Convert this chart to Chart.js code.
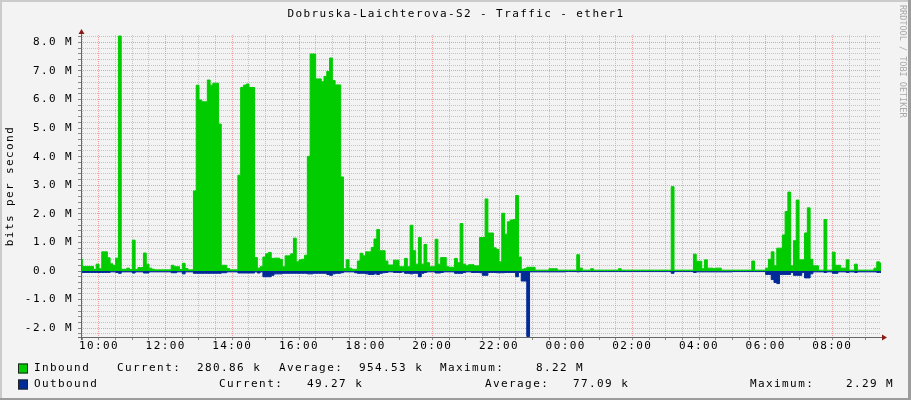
<!DOCTYPE html>
<html>
<head>
<meta charset="utf-8">
<title>Dobruska-Laichterova-S2 - Traffic - ether1</title>
<script src="https://cdn.jsdelivr.net/npm/chart.js@4.4.1/dist/chart.umd.min.js"></script>
<style>
html, body { margin: 0; padding: 0; background: #F3F3F3; }
canvas { display: block; }
</style>
</head>
<body>
<canvas id="trafficChart" width="911" height="400"></canvas>
<script>
// 5 minute samples, first one starts 09:25, values in Mbit/s
const startHour = 9 + 25 / 60;
const stepHours = 5 / 60;

const inbound = [
    0.41, 0.16, 0.16, 0.16, 0.16, 0.06, 0.24,
    0.08, 0.67, 0.67, 0.46, 0.25, 0.2, 0.45, 8.22, 0.06, 0.06, 0.1, 0.05,
    1.08, 0.05, 0.12, 0.12, 0.63, 0.24, 0.1, 0.06, 0.04, 0.04, 0.04, 0.04,
    0.04, 0.04, 0.2, 0.15, 0.15, 0.05, 0.27, 0.09, 0.04, 0.04, 2.8, 6.5,
    5.98, 5.92, 5.92, 6.68, 6.5, 6.57, 6.57, 5.14, 0.2, 0.2, 0.09, 0.04,
    0.04, 0.04, 3.35, 6.42, 6.5, 6.54, 6.42, 6.42, 0.47, 0.1, 0.15, 0.49,
    0.6, 0.65, 0.44, 0.45, 0.45, 0.41, 0.15, 0.53, 0.53, 0.6, 1.15, 0.32,
    0.39, 0.41, 0.55, 4.01, 7.59, 7.59, 6.72, 6.72, 6.62, 6.8, 6.98, 7.45,
    6.66, 6.51, 6.51, 3.29, 0.08, 0.39, 0.1, 0.06, 0.06, 0.35, 0.62, 0.53,
    0.67, 0.67, 0.82, 1.12, 1.45, 0.71, 0.71, 0.35, 0.21, 0.21, 0.38, 0.38,
    0.15, 0.15, 0.44, 0.15, 1.6, 0.71, 0.24, 1.17, 0.24, 0.93, 0.29, 0.15,
    0.15, 1.11, 0.24, 0.47, 0.47, 0.15, 0.13, 0.13, 0.44, 0.29, 1.66, 0.24,
    0.18, 0.22, 0.22, 0.18, 0.18, 1.17, 1.17, 2.52, 1.33, 1.33, 0.81, 0.75,
    0.32, 2.02, 1.29, 1.72, 1.78, 1.8, 2.64, 0.49, 0.06, 0.08, 0.13, 0.13,
    0.13, 0.03, 0.03, 0.03, 0.03, 0.03, 0.08, 0.08, 0.08, 0.03, 0.03, 0.03,
    0.03, 0.03, 0.03, 0.03, 0.57, 0.1, 0.03, 0.03, 0.03, 0.08, 0.03, 0.03,
    0.03, 0.03, 0.03, 0.03, 0.03, 0.03, 0.03, 0.08, 0.03, 0.03, 0.03, 0.03,
    0.03, 0.03, 0.03, 0.03, 0.03, 0.03, 0.03, 0.03, 0.03, 0.03, 0.03, 0.03,
    0.03, 0.03, 2.95, 0.03, 0.03, 0.03, 0.03, 0.03, 0.03, 0.03, 0.59, 0.34,
    0.34, 0.08, 0.39, 0.1, 0.1, 0.08, 0.1, 0.1, 0.03, 0.03, 0.03, 0.03,
    0.03, 0.03, 0.03, 0.03, 0.03, 0.03, 0.03, 0.35, 0.03, 0.03, 0.03, 0.03,
    0.1, 0.41, 0.67, 0.18, 0.8, 0.8, 1.26, 2.08, 2.76, 0.18, 1.06, 2.48,
    0.39, 0.39, 1.33, 2.21, 0.41, 0.18, 0.18, 0.03, 0.03, 1.8, 0.03, 0.03,
    0.66, 0.2, 0.2, 0.1, 0.1, 0.39, 0.03, 0.03, 0.24, 0.03, 0.03, 0.03,
    0.03, 0.03, 0.03, 0.1, 0.32, 0.28, 0.28
];

const outbound = [
    -0.05, -0.05, -0.05, -0.05, -0.05, -0.05, -0.05,
    -0.05, -0.05, -0.05, -0.05, -0.03, -0.03, -0.05, -0.08, -0.03, -0.03, -0.03, -0.03,
    -0.07, -0.03, -0.03, -0.03, -0.07, -0.07, -0.03, -0.03, -0.03, -0.03, -0.03, -0.03,
    -0.03, -0.03, -0.06, -0.06, -0.03, -0.03, -0.1, -0.03, -0.03, -0.03, -0.08, -0.08,
    -0.08, -0.08, -0.08, -0.08, -0.08, -0.08, -0.08, -0.08, -0.06, -0.06, -0.03, -0.03,
    -0.03, -0.03, -0.07, -0.07, -0.07, -0.07, -0.07, -0.07, -0.03, -0.07, -0.03, -0.2,
    -0.2, -0.2, -0.15, -0.1, -0.1, -0.1, -0.08, -0.08, -0.08, -0.08, -0.08, -0.08,
    -0.08, -0.08, -0.08, -0.1, -0.1, -0.08, -0.08, -0.08, -0.08, -0.08, -0.12, -0.15,
    -0.1, -0.08, -0.08, -0.06, -0.03, -0.03, -0.03, -0.03, -0.06, -0.08, -0.08, -0.08,
    -0.1, -0.12, -0.12, -0.1, -0.12, -0.08, -0.06, -0.05, -0.03, -0.03, -0.05, -0.05,
    -0.05, -0.03, -0.08, -0.08, -0.1, -0.08, -0.08, -0.2, -0.08, -0.05, -0.03, -0.03,
    -0.03, -0.07, -0.07, -0.05, -0.03, -0.03, -0.03, -0.03, -0.08, -0.08, -0.08, -0.05,
    -0.03, -0.03, -0.05, -0.05, -0.05, -0.06, -0.15, -0.15, -0.05, -0.05, -0.05, -0.06,
    -0.06, -0.06, -0.05, -0.05, -0.05, -0.05, -0.2, -0.05, -0.35, -0.35, -2.29, -0.03,
    -0.03, -0.03, -0.03, -0.03, -0.03, -0.03, -0.03, -0.03, -0.03, -0.03, -0.03, -0.03,
    -0.02, -0.02, -0.02, -0.02, -0.03, -0.02, -0.02, -0.02, -0.02, -0.02, -0.02, -0.02,
    -0.02, -0.02, -0.02, -0.02, -0.02, -0.02, -0.02, -0.02, -0.02, -0.02, -0.02, -0.02,
    -0.02, -0.02, -0.02, -0.02, -0.02, -0.02, -0.02, -0.02, -0.02, -0.02, -0.02, -0.02,
    -0.02, -0.02, -0.08, -0.02, -0.02, -0.02, -0.02, -0.02, -0.02, -0.02, -0.05, -0.03,
    -0.03, -0.03, -0.03, -0.03, -0.03, -0.03, -0.03, -0.03, -0.03, -0.03, -0.03, -0.03,
    -0.02, -0.02, -0.02, -0.02, -0.02, -0.02, -0.02, -0.02, -0.02, -0.02, -0.02, -0.02,
    -0.12, -0.12, -0.3, -0.4, -0.44, -0.12, -0.12, -0.12, -0.12, -0.05, -0.15, -0.15,
    -0.15, -0.05, -0.24, -0.24, -0.1, -0.03, -0.03, -0.03, -0.03, -0.05, -0.03, -0.03,
    -0.08, -0.08, -0.03, -0.03, -0.03, -0.05, -0.03, -0.03, -0.05, -0.03, -0.03, -0.03,
    -0.03, -0.03, -0.03, -0.03, -0.05, -0.05, -0.05
];

const chartTitle = 'Dobruska-Laichterova-S2 - Traffic - ether1';
const legendNames = ['Inbound', 'Outbound'];
const legendColors = ['#00CC00', '#002A97'];
const legendCurrent = ['280.86 k', '49.27 k'];
const legendAverage = ['954.53 k', '77.09 k'];
const legendMaximum = ['8.22 M', '2.29 M'];

const FONT = "'DejaVu Sans Mono', monospace";

function toPoints(values) {
    return values.map((v, i) => ({ x: startHour + i * stepHours, y: v }));
}

function isWhole(v) {
    return Math.abs(v - Math.round(v)) < 1e-6;
}

// rrdtool look: background, frame, title, axes with arrows, legend, side text
const rrdDecor = {
    id: 'rrdDecor',
    beforeDraw(chart) {
        const ctx = chart.ctx;
        ctx.letterSpacing = '1.4px';
        ctx.save();
        ctx.fillStyle = '#F3F3F3';
        ctx.fillRect(0, 0, 911, 400);
        ctx.fillStyle = '#CBCBCB';
        ctx.fillRect(0, 0, 911, 2);
        ctx.fillRect(0, 0, 2, 400);
        ctx.fillStyle = '#9C9C9C';
        ctx.fillRect(0, 398, 911, 2);
        ctx.fillRect(908, 0, 3, 400);

        ctx.font = '11px ' + FONT;
        ctx.fillStyle = '#000';
        ctx.textAlign = 'center';
        ctx.textBaseline = 'middle';
        ctx.fillText(chartTitle, 456, 14.5);
        ctx.restore();
    },
    afterDraw(chart) {
        const ctx = chart.ctx;
        const area = chart.chartArea;
        const y0 = Math.round(area.bottom) + 0.5;
        const x0 = Math.round(area.left) + 0.5;

        ctx.save();
        ctx.strokeStyle = '#666';
        ctx.lineWidth = 1;
        ctx.beginPath();
        ctx.moveTo(area.left - 3, y0);
        ctx.lineTo(area.right + 2, y0);
        ctx.moveTo(x0, area.bottom + 3);
        ctx.lineTo(x0, area.top - 2);
        ctx.stroke();

        ctx.fillStyle = '#8B1A1A';
        ctx.beginPath();
        ctx.moveTo(x0 - 3, area.top - 1);
        ctx.lineTo(x0 + 3, area.top - 1);
        ctx.lineTo(x0, area.top - 6);
        ctx.closePath();
        ctx.fill();
        ctx.beginPath();
        ctx.moveTo(area.right + 1, y0 - 3);
        ctx.lineTo(area.right + 1, y0 + 3);
        ctx.lineTo(area.right + 6, y0);
        ctx.closePath();
        ctx.fill();

        // legend
        ctx.font = '11px ' + FONT;
        ctx.textBaseline = 'middle';
        ctx.textAlign = 'left';
        const rows = [
            { y: 368.5, cols: [117, 197, 279, 359, 440, 536] },
            { y: 384.5, cols: [219, 307, 485, 573, 750, 846] }
        ];
        rows.forEach((row, i) => {
            ctx.fillStyle = legendColors[i];
            ctx.fillRect(18, row.y - 5, 10, 10);
            ctx.strokeStyle = '#222';
            ctx.strokeRect(18.5, row.y - 4.5, 9, 9);
            ctx.fillStyle = '#000';
            ctx.fillText(legendNames[i], 34, row.y);
            ctx.fillText('Current:', row.cols[0], row.y);
            ctx.fillText(legendCurrent[i], row.cols[1], row.y);
            ctx.fillText('Average:', row.cols[2], row.y);
            ctx.fillText(legendAverage[i], row.cols[3], row.y);
            ctx.fillText('Maximum:', row.cols[4], row.y);
            ctx.fillText(legendMaximum[i], row.cols[5], row.y);
        });
        ctx.restore();

        // side credit
        ctx.save();
        ctx.letterSpacing = '0px';
        ctx.font = '8.5px ' + FONT;
        ctx.translate(902, 5);
        ctx.rotate(Math.PI / 2);
        ctx.fillStyle = '#A8A8A8';
        ctx.textAlign = 'left';
        ctx.textBaseline = 'middle';
        ctx.fillText('RRDTOOL / TOBI OETIKER', 0, 0);
        ctx.restore();
    }
};

const ctx = document.getElementById('trafficChart');

new Chart(ctx, {
    type: 'line',
    data: {
        datasets: [{
            label: 'Inbound',
            data: toPoints(inbound),
            stepped: true,
            fill: 'origin',
            backgroundColor: '#00CC00',
            borderColor: '#00CC00',
            borderWidth: 1,
            pointRadius: 0
        }, {
            label: 'Outbound',
            data: toPoints(outbound),
            stepped: true,
            fill: 'origin',
            backgroundColor: '#002A97',
            borderColor: '#002A97',
            borderWidth: 1,
            pointRadius: 0
        }]
    },
    options: {
        responsive: false,
        animation: false,
        devicePixelRatio: 1,
        layout: {
            padding: { left: 0, right: 30, top: 35, bottom: 0 }
        },
        plugins: {
            legend: { display: false },
            tooltip: { enabled: false },
            title: { display: false }
        },
        scales: {
            x: {
                type: 'linear',
                min: 9.46,
                max: 33.46,
                afterFit: scale => { scale.height = 63; },
                afterBuildTicks: scale => {
                    const ticks = [];
                    for (let h = 9.5; h <= 33.4; h += 0.5) ticks.push({ value: h });
                    scale.ticks = ticks;
                },
                border: { display: false, dash: [1, 1] },
                grid: {
                    color: c => (c.tick && c.tick.value % 2 === 0) ? 'rgba(235, 90, 90, 0.55)' : 'rgba(150, 150, 150, 0.5)',
                    lineWidth: 1,
                    tickLength: 3,
                    tickColor: '#888'
                },
                ticks: {
                    autoSkip: false,
                    maxRotation: 0,
                    padding: 0,
                    color: '#000',
                    font: { family: FONT, size: 11, lineHeight: 1.2 },
                    callback: value => {
                        if (value % 2 !== 0) return '';
                        return String(value % 24).padStart(2, '0') + ':00';
                    }
                }
            },
            y: {
                min: -2.308,
                max: 8.255,
                afterFit: scale => { scale.width = 81; },
                afterBuildTicks: scale => {
                    const ticks = [];
                    for (let v = -22; v <= 82; v += 2) ticks.push({ value: v / 10 });
                    scale.ticks = ticks;
                },
                border: { display: false, dash: [1, 1] },
                grid: {
                    color: c => (c.tick && isWhole(c.tick.value)) ? 'rgba(235, 90, 90, 0.55)' : 'rgba(150, 150, 150, 0.5)',
                    lineWidth: 1,
                    tickLength: 3,
                    tickColor: '#888'
                },
                title: {
                    display: true,
                    text: 'bits per second',
                    color: '#000',
                    font: { family: FONT, size: 11, lineHeight: 1.2 },
                    padding: { top: 4, bottom: 0 }
                },
                ticks: {
                    autoSkip: false,
                    padding: 5,
                    color: '#000',
                    font: { family: FONT, size: 11, lineHeight: 1.2 },
                    callback: value => {
                        if (!isWhole(value)) return '';
                        if (Math.round(value) === 0) return '0.0  ';
                        return value.toFixed(1) + ' M';
                    }
                }
            }
        }
    },
    plugins: [rrdDecor]
});
</script>
</body>
</html>
